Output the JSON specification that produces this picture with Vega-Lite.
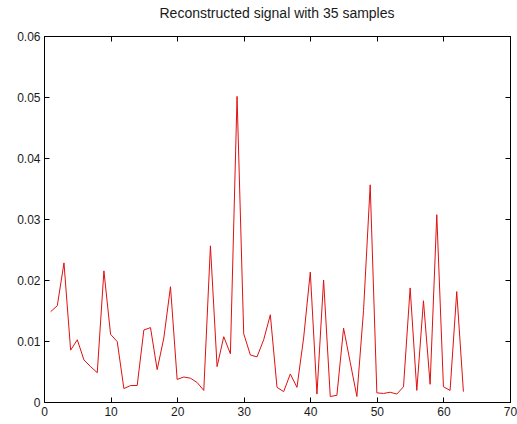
{
  "$schema": "https://vega.github.io/schema/vega-lite/v6.json",
  "width": 466,
  "height": 366,
  "autosize": {"type": "none"},
  "padding": {"left": 44, "top": 36, "right": 7, "bottom": 22},
  "background": "white",
  "title": {"text": "Reconstructed signal with 35 samples", "font": "Liberation Sans", "fontSize": 14, "fontWeight": "normal", "color": "#1a1a1a", "offset": 9},
  "config": {"view": {"stroke": "#000000", "strokeWidth": 1}},
  "data": {"values": [
    {"n":1,"v":0.0148},{"n":2,"v":0.0158},{"n":3,"v":0.0228},{"n":4,"v":0.0085},{"n":5,"v":0.0102},
    {"n":6,"v":0.0069},{"n":7,"v":0.0058},{"n":8,"v":0.0048},{"n":9,"v":0.0215},{"n":10,"v":0.0111},
    {"n":11,"v":0.0099},{"n":12,"v":0.0022},{"n":13,"v":0.0027},{"n":14,"v":0.0027},{"n":15,"v":0.0118},
    {"n":16,"v":0.0122},{"n":17,"v":0.0053},{"n":18,"v":0.0105},{"n":19,"v":0.0189},{"n":20,"v":0.0037},
    {"n":21,"v":0.0041},{"n":22,"v":0.0039},{"n":23,"v":0.0032},{"n":24,"v":0.0019},{"n":25,"v":0.0256},
    {"n":26,"v":0.0058},{"n":27,"v":0.0107},{"n":28,"v":0.0079},{"n":29,"v":0.0501},{"n":30,"v":0.0112},
    {"n":31,"v":0.0077},{"n":32,"v":0.0074},{"n":33,"v":0.0102},{"n":34,"v":0.0143},{"n":35,"v":0.0024},
    {"n":36,"v":0.0017},{"n":37,"v":0.0046},{"n":38,"v":0.0024},{"n":39,"v":0.0105},{"n":40,"v":0.0213},
    {"n":41,"v":0.0013},{"n":42,"v":0.0200},{"n":43,"v":0.0009},{"n":44,"v":0.0011},{"n":45,"v":0.0121},
    {"n":46,"v":0.0065},{"n":47,"v":0.0009},{"n":48,"v":0.0150},{"n":49,"v":0.0356},{"n":50,"v":0.0015},
    {"n":51,"v":0.0014},{"n":52,"v":0.0016},{"n":53,"v":0.0013},{"n":54,"v":0.0025},{"n":55,"v":0.0187},
    {"n":56,"v":0.0019},{"n":57,"v":0.0166},{"n":58,"v":0.0029},{"n":59,"v":0.0307},{"n":60,"v":0.0025},
    {"n":61,"v":0.0019},{"n":62,"v":0.0181},{"n":63,"v":0.0017}
  ]},
  "layer": [
    {
      "mark": {"type": "line", "color": "#e01010", "strokeWidth": 1},
      "encoding": {
        "x": {"field": "n", "type": "quantitative", "scale": {"domain": [0, 70], "nice": false, "zero": false},
          "axis": {"orient": "bottom", "title": null, "values": [0,10,20,30,40,50,60,70], "grid": false, "tickSize": -5, "tickColor": "#000000", "domainColor": "#000000", "labelPadding": 9, "labelFont": "Liberation Sans", "labelFontSize": 12, "labelColor": "#1a1a1a", "labelFlush": false}},
        "y": {"field": "v", "type": "quantitative", "scale": {"domain": [0, 0.06], "nice": false},
          "axis": {"orient": "left", "title": null, "values": [0,0.01,0.02,0.03,0.04,0.05,0.06], "format": "~g", "grid": false, "tickSize": -5, "tickColor": "#000000", "domainColor": "#000000", "labelPadding": 9, "labelFont": "Liberation Sans", "labelFontSize": 12, "labelColor": "#1a1a1a", "labelFlush": false}}
      }
    },
    {
      "mark": {"type": "line", "opacity": 0},
      "encoding": {
        "x": {"field": "n", "type": "quantitative",
          "axis": {"orient": "top", "title": null, "values": [0,10,20,30,40,50,60,70], "labels": false, "grid": false, "tickSize": -5, "tickColor": "#000000", "domainColor": "#000000"}},
        "y": {"field": "v", "type": "quantitative",
          "axis": {"orient": "right", "title": null, "values": [0,0.01,0.02,0.03,0.04,0.05,0.06], "labels": false, "grid": false, "tickSize": -5, "tickColor": "#000000", "domainColor": "#000000"}}
      }
    }
  ],
  "resolve": {"axis": {"x": "independent", "y": "independent"}}
}
